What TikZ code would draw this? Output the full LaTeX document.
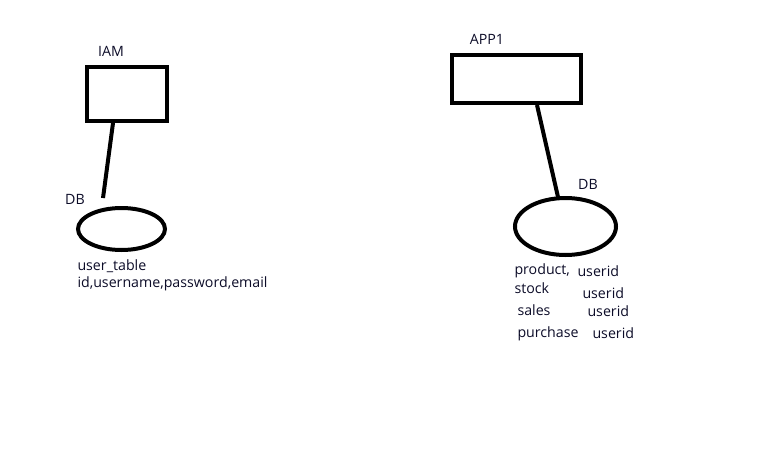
\documentclass[tikz,border=0pt]{standalone}
\usepackage{fontspec}
\setmainfont{Open Sans}
\definecolor{inkcol}{RGB}{12,12,40}
\begin{document}
\begin{tikzpicture}[x=1pt,y=-1pt,line width=4pt,
	every node/.style={text=inkcol,font=\fontsize{14.2}{16}\selectfont,inner sep=0pt},
	lbl/.style={anchor=west}]
\useasboundingbox (0,0) rectangle (768,460);
% IAM side
\node (iamlbl) at (111,51){IAM};
\draw (87,67) rectangle (167,121);
\coordinate (iamtop) at (113,123);
\coordinate (iambot) at (103,198);
\draw (iamtop)--(iambot);
\node (db1) at (75,199){DB};
\draw (121.5,229) ellipse (43.5 and 21);
\node[lbl] (usertab) at (75.5,266){user\_table};
\node[lbl] (usercols) at (75.5,284){id,username,password,email};
% APP1 side
\node (applbl) at (487,39){APP1};
\draw (452,55) rectangle (581,103);
\coordinate (apptop) at (537,105);
\coordinate (appbot) at (558,197);
\draw (apptop)--(appbot);
\node (db2) at (588,184){DB};
\draw (565.5,226.5) ellipse (50.5 and 28.5);
\node[lbl] (prod) at (512.5,271){product,};
\node[lbl] (stock) at (512.5,288){stock};
\node[lbl] (sales) at (515.5,310){sales};
\node[lbl] (purch) at (515.5,334){purchase};
\node[lbl] (uid1) at (575.5,271){userid};
\node[lbl] (uid2) at (580.5,293){userid};
\node[lbl] (uid3) at (585.5,311){userid};
\node[lbl] (uid4) at (590.5,333){userid};
\end{tikzpicture}
\end{document}
